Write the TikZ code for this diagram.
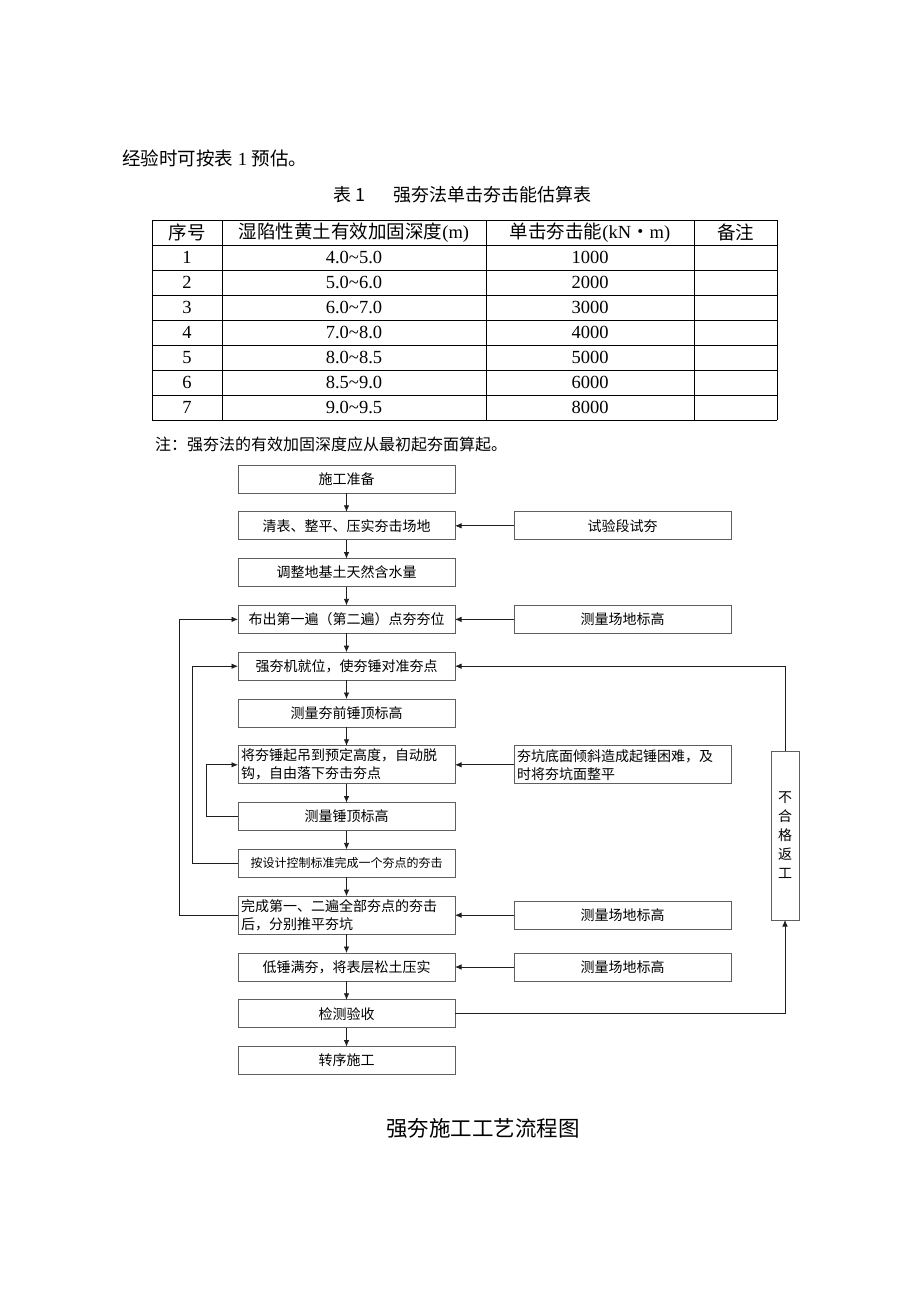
\documentclass[tikz,border=0pt]{standalone}
\usepackage{fontspec}
\setmainfont{Liberation Serif}
\newfontfamily\cjk{Noto Sans CJK SC}
\usetikzlibrary{positioning,arrows.meta}
\definecolor{frameGray}{RGB}{95,95,95}
\definecolor{wireInk}{RGB}{30,30,30}

\begin{document}
\begin{tikzpicture}[x=1pt,y=-1pt,
    stepbox/.style={draw=frameGray, line width=0.9pt, outer sep=0pt, minimum width=217pt,
      minimum height=28pt, inner sep=3pt, font=\cjk\fontsize{14}{18}\selectfont},
    twoline/.style={stepbox, minimum height=38pt, text width=211pt, align=left},
    arrow/.style={-{Latex[length=6.5pt,width=5.5pt]}, line width=0.8pt, color=wireInk},
    rule/.style={line width=0.8pt, color=black},
    cell/.style={font=\fontsize{18.5}{20}\selectfont, inner sep=0pt},
    node distance=18.8pt and 59pt
  ]
    \fill[white] (0,0) rectangle (920,1302);
    \useasboundingbox (0,0) rectangle (920,1302);

    % text above the table
    \node[cell, anchor=west] (intro) at (122,158) {{\cjk 经验时可按表} 1 {\cjk 预估。}};
    \node[anchor=west, inner sep=0pt, font=\cjk\fontsize{18}{20}\selectfont] (tabtitle) at (333,195)
      {表\hspace{4pt}1\hspace{28pt}强夯法单击夯击能估算表};

    % table 1
    \foreach \y in {220,245,...,420}
      \draw[rule] (152,\y) -- (777,\y);
    \foreach \x in {152,222,486,694,777}
      \draw[rule] (\x,220) -- (\x,420);
    \node[cell] (hno) at (187,232.5) {{\cjk 序号}};
    \node[cell] (hdepth) at (354,232.5) {{\cjk 湿陷性黄土有效加固深度}(m)};
    \node[cell] (henergy) at (590,232.5) {{\cjk 单击夯击能}(kN{\cjk ・}m)};
    \node[cell] (hnote) at (735.5,232.5) {{\cjk 备注}};
    \foreach \lo/\hi/\en [count=\i] in {4.0/5.0/1000, 5.0/6.0/2000, 6.0/7.0/3000,
        7.0/8.0/4000, 8.0/8.5/5000, 8.5/9.0/6000, 9.0/9.5/8000} {
      \node[cell] (no\i) at (187,232.5+25*\i) {\i};
      \node[cell] (depth\i) at (354,232.5+25*\i) {\lo\textasciitilde\hi};
      \node[cell] (energy\i) at (590,232.5+25*\i) {\en};
    }
    \node[anchor=west, inner sep=0pt, font=\cjk\fontsize{16}{18}\selectfont] (tabnote) at (155,444)
      {注：强夯法的有效加固深度应从最初起夯面算起。};

    % flow chart
    \node[stepbox] (prep) at (346.5,479) {施工准备};
    \node[stepbox, below=of prep] (clear) {清表、整平、压实夯击场地};
    \node[stepbox, below=of clear] (water) {调整地基土天然含水量};
    \node[stepbox, below=of water] (layout) {布出第一遍（第二遍）点夯夯位};
    \node[stepbox, below=of layout] (align) {强夯机就位，使夯锤对准夯点};
    \node[stepbox, below=of align] (premeas) {测量夯前锤顶标高};
    \node[twoline, below=of premeas] (drop) {将夯锤起吊到预定高度，自动脱\\钩，自由落下夯击夯点};
    \node[stepbox, below=of drop] (topmeas) {测量锤顶标高};
    \node[stepbox, below=of topmeas, font=\cjk\fontsize{12}{14}\selectfont] (onept) {按设计控制标准完成一个夯点的夯击};
    \node[twoline, below=of onept] (pass) {完成第一、二遍全部夯点的夯击\\后，分别推平夯坑};
    \node[stepbox, below=of pass] (full) {低锤满夯，将表层松土压实};
    \node[stepbox, below=of full] (check) {检测验收};
    \node[stepbox, below=of check] (next) {转序施工};

    \node[stepbox, right=of clear] (trial) {试验段试夯};
    \node[stepbox, right=of layout] (survey1) {测量场地标高};
    \node[twoline, right=of drop] (tilt) {夯坑底面倾斜造成起锤困难，及\\时将夯坑面整平};
    \node[stepbox, right=of pass] (survey2) {测量场地标高};
    \node[stepbox, right=of full] (survey3) {测量场地标高};

    \node[stepbox, minimum width=28pt, minimum height=169pt, inner sep=0pt, align=center,
      font=\cjk\fontsize{14}{19}\selectfont] (redo) at (785,835.5) {不\\合\\格\\返\\工};

    \foreach \a/\b in {prep/clear, clear/water, water/layout, layout/align, align/premeas,
        premeas/drop, drop/topmeas, topmeas/onept, onept/pass, pass/full, full/check, check/next}
      \draw[arrow] (\a) -- (\b);
    \foreach \a/\b in {trial/clear, survey1/layout, tilt/drop, survey2/pass, survey3/full}
      \draw[arrow] (\a) -- (\b);

    \draw[arrow] (topmeas.west) -- ++(-32,0) |- (drop.west);
    \draw[arrow] (onept.west) -- ++(-46,0) |- (align.west);
    \draw[arrow] (pass.west) -- ++(-59,0) |- (layout.west);
    \draw[arrow] (check.east) -| (redo.south);
    \draw[arrow] (redo.north) |- (align.east);

    \node[inner sep=0pt, font=\cjk\fontsize{21.5}{24}\selectfont] (caption) at (483,1128) {强夯施工工艺流程图};
  \end{tikzpicture}
\end{document}
